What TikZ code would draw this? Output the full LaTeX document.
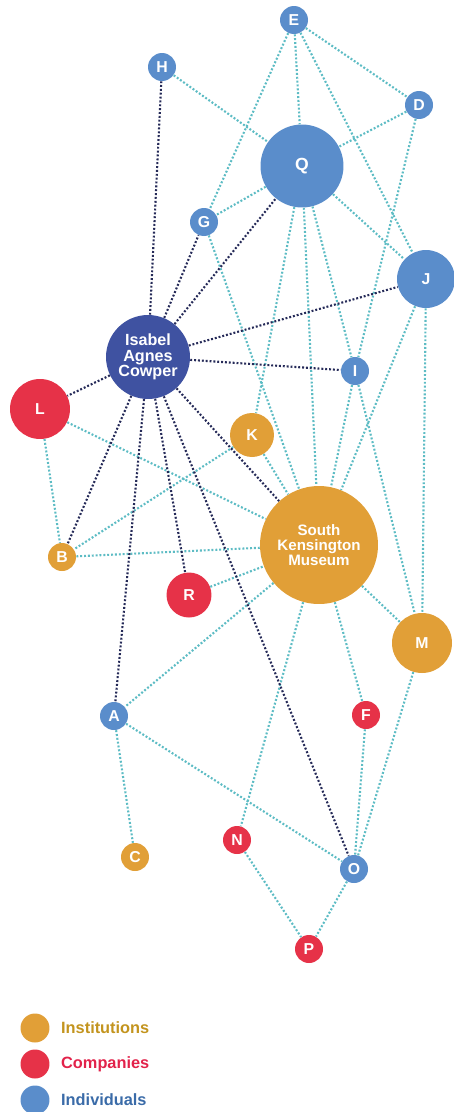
\documentclass[tikz,border=0pt]{standalone}
\usepackage{fontspec}
\setmainfont{Liberation Sans}
\usetikzlibrary{positioning}
\definecolor{netPerson}{HTML}{5A8DCB}
\definecolor{netCompany}{HTML}{E63248}
\definecolor{netInst}{HTML}{E19F37}
\definecolor{netCowper}{HTML}{3F52A1}
\definecolor{netLink}{HTML}{5DBCC4}
\definecolor{netTie}{HTML}{252A58}
\definecolor{legInstText}{HTML}{C3941E}
\definecolor{legCompText}{HTML}{E2224A}
\definecolor{legPersText}{HTML}{3A6BA8}
\tikzset{
  netfig/.style={
    x=0.02cm, y=-0.02cm,
    every node/.append style={font=\bfseries\fontsize{9}{9}\selectfont},
  },
  actor/.style={circle, text=white, inner sep=0pt, align=center, minimum size=0.56cm},
  person/.style={actor, fill=netPerson},
  company/.style={actor, fill=netCompany},
  inst/.style={actor, fill=netInst},
  cowper/.style={actor, fill=netCowper, minimum size=1.68cm,
    font=\bfseries\fontsize{9.2}{8.9}\selectfont},
  % alle Verbindungen punktiert; Cowper-Verbindungen dunkel
  link/.style={draw=netLink, line width=1.2pt, dash pattern=on 1.1pt off 1.1pt},
  tie/.style={draw=netTie, line width=1.2pt, dash pattern=on 1.1pt off 1.1pt},
  legdot/.style={circle, inner sep=0pt, minimum size=0.58cm},
  legtext/.style={font=\bfseries\fontsize{9.3}{9.3}\selectfont, inner sep=0pt},
}
\begin{document}
\begin{tikzpicture}[netfig]
  \useasboundingbox (0,0) rectangle (453,1112);
  \node[person] (E) at (294,20) {E};
  \node[person] (H) at (162,67) {H};
  \node[person] (D) at (419,105) {D};
  \node[person, minimum size=1.66cm, font=\bfseries\fontsize{10}{10}\selectfont] (Q) at (302,166) {Q};
  \node[person] (G) at (204,222) {G};
  \node[person, minimum size=1.16cm] (J) at (426,279) {J};
  \node[cowper] (Cowper) at (148,357) {Isabel\\Agnes\\Cowper};
  \node[person] (I) at (355,371) {I};
  \node[company, minimum size=1.2cm] (L) at (40,409) {L};
  \node[inst, minimum size=0.88cm] (K) at (252,435) {K};
  \node[inst, minimum size=2.36cm, font=\bfseries\fontsize{8.6}{8.5}\selectfont] (SKM) at (319,545) {South\\Kensington\\Museum};
  \node[inst] (B) at (62,557) {B};
  \node[company, minimum size=0.9cm] (R) at (189,595) {R};
  \node[inst, minimum size=1.2cm] (M) at (422,643) {M};
  \node[person] (A) at (114,716) {A};
  \node[company] (F) at (366,715) {F};
  \node[company] (N) at (237,840) {N};
  \node[inst] (C) at (135,857) {C};
  \node[person] (O) at (354,869) {O};
  \node[company] (P) at (309,949) {P};
  \draw[link] (E) -- (G);
  \draw[link] (E) -- (Q);
  \draw[link] (E) -- (D);
  \draw[link] (E) -- (J);
  \draw[link] (H) -- (Q);
  \draw[link] (D) -- (Q);
  \draw[link] (D) -- (I);
  \draw[link] (Q) -- (G);
  \draw[link] (Q) -- (J);
  \draw[link] (Q) -- (K);
  \draw[link] (Q) -- (SKM);
  \draw[link] (Q) -- (I);
  \draw[link] (G) -- (SKM);
  \draw[link] (J) -- (SKM);
  \draw[link] (J) -- (M);
  \draw[link] (I) -- (SKM);
  \draw[link] (I) -- (M);
  \draw[link] (K) -- (SKM);
  \draw[link] (K) -- (B);
  \draw[link] (L) -- (SKM);
  \draw[link] (L) -- (B);
  \draw[link] (B) -- (SKM);
  \draw[link] (R) -- (SKM);
  \draw[link] (SKM) -- (A);
  \draw[link] (SKM) -- (N);
  \draw[link] (SKM) -- (F);
  \draw[link] (SKM) -- (M);
  \draw[link] (A) -- (C);
  \draw[link] (A) -- (O);
  \draw[link] (F) -- (O);
  \draw[link] (M) -- (O);
  \draw[link] (N) -- (P);
  \draw[link] (O) -- (P);
  \draw[tie] (Cowper) -- (H);
  \draw[tie] (Cowper) -- (G);
  \draw[tie] (Cowper) -- (Q);
  \draw[tie] (Cowper) -- (J);
  \draw[tie] (Cowper) -- (I);
  \draw[tie] (Cowper) -- (L);
  \draw[tie] (Cowper) -- (B);
  \draw[tie] (Cowper) -- (A);
  \draw[tie] (Cowper) -- (R);
  \draw[tie] (Cowper) -- (SKM);
  \draw[tie] (Cowper) -- (O);
  % Legende
  \node[legdot, fill=netInst] (legInst) at (35,1028) {};
  \node[legdot, fill=netCompany] (legComp) at (35,1064) {};
  \node[legdot, fill=netPerson] (legPers) at (35,1100) {};
  \node[legtext, text=legInstText, right=0.22cm of legInst] (legInstLabel) {Institutions};
  \node[legtext, text=legCompText, right=0.22cm of legComp] (legCompLabel) {Companies};
  \node[legtext, text=legPersText, right=0.22cm of legPers] (legPersLabel) {Individuals};
\end{tikzpicture}
\end{document}
